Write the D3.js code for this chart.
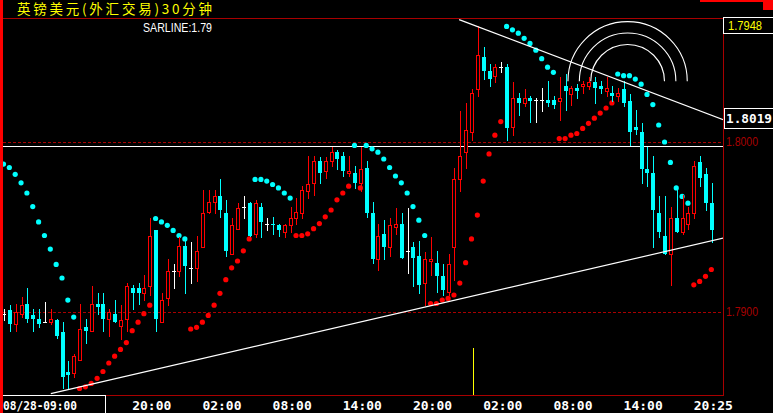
<!DOCTYPE html>
<html>
<head>
<meta charset="utf-8">
<script src="https://cdn.jsdelivr.net/npm/d3@7"></script>
<style>
  html, body { margin: 0; padding: 0; background: #000; overflow: hidden; }
  svg { display: block; }
</style>
</head>
<body>
<script>
// GBP/USD 30 minute bars
const opens = [
  1.7899, 1.7901, 1.7893, 1.7899, 1.7905, 1.7898, 1.7896, 1.7894, 1.7894, 1.7895,
  1.7888, 1.7865, 1.7864, 1.7872, 1.7891, 1.7889, 1.7905, 1.7905, 1.7896, 1.7899,
  1.7892, 1.7896, 1.7914, 1.7914, 1.7911, 1.7915, 1.7948, 1.7894, 1.7908, 1.7924,
  1.7924, 1.7939, 1.7926, 1.7926, 1.7938, 1.7959, 1.7965, 1.7968, 1.7958, 1.7934,
  1.7949, 1.7962, 1.7964, 1.7946, 1.7962, 1.7952, 1.7952, 1.7951, 1.7947, 1.7951,
  1.7955, 1.7958, 1.7971, 1.7976, 1.7989, 1.7983, 1.7989, 1.7994, 1.7992, 1.7982,
  1.7982, 1.7976, 1.7985, 1.7958, 1.7931, 1.7946, 1.7938, 1.7950, 1.7952, 1.7936,
  1.7938, 1.7933, 1.7917, 1.7930, 1.7929, 1.7921, 1.7912, 1.7938, 1.7978, 1.7994,
  1.8006, 1.8031, 1.8050, 1.8042, 1.8039, 1.8044, 1.8044, 1.8009, 1.8026, 1.8023,
  1.8026, 1.8025, 1.8025, 1.8025, 1.8025, 1.8024, 1.8033, 1.8028, 1.8032, 1.8033,
  1.8033, 1.8035, 1.8033, 1.8030, 1.8029, 1.8027, 1.8031, 1.8024, 1.8009, 1.8006,
  1.7984, 1.7982, 1.7958, 1.7945, 1.7934, 1.7955, 1.7947, 1.7952, 1.7958, 1.7988,
  1.7981, 1.7964
];
const highs = [
  1.7902, 1.7904, 1.7905, 1.7909, 1.7914, 1.7902, 1.7902, 1.7906, 1.7902, 1.7896,
  1.7894, 1.7871, 1.7875, 1.7905, 1.7896, 1.7915, 1.7911, 1.7911, 1.7902, 1.7907,
  1.7904, 1.7917, 1.7916, 1.7917, 1.7922, 1.7955, 1.7948, 1.7911, 1.7931, 1.7928,
  1.7944, 1.7944, 1.7941, 1.7945, 1.7972, 1.7972, 1.7972, 1.7978, 1.7966, 1.7955,
  1.7964, 1.7968, 1.7965, 1.7966, 1.7964, 1.7955, 1.7956, 1.7952, 1.7952, 1.7962,
  1.7967, 1.7974, 1.7992, 1.7992, 1.7991, 1.7991, 1.7997, 1.7995, 1.7994, 1.7992,
  1.7986, 1.7997, 1.7989, 1.7965, 1.7952, 1.7954, 1.7955, 1.7961, 1.7958, 1.7961,
  1.7941, 1.7942, 1.7935, 1.7944, 1.7936, 1.7928, 1.7934, 1.7985, 1.8018, 1.8023,
  1.8031, 1.8068, 1.8056, 1.8046, 1.8046, 1.8047, 1.8046, 1.8035, 1.8029, 1.8031,
  1.8027, 1.8026, 1.8032, 1.8036, 1.8027, 1.8038, 1.8040, 1.8033, 1.8034, 1.8036,
  1.8038, 1.8038, 1.8036, 1.8038, 1.8033, 1.8032, 1.8036, 1.8028, 1.8019, 1.8011,
  1.7997, 1.7992, 1.7968, 1.7968, 1.7962, 1.7973, 1.7969, 1.7962, 1.7989, 1.7992,
  1.7985, 1.7976
];
const lows = [
  1.7895, 1.7889, 1.7889, 1.7897, 1.7894, 1.7889, 1.7891, 1.7894, 1.7893, 1.7885,
  1.7855, 1.7855, 1.7862, 1.7872, 1.7882, 1.7889, 1.7899, 1.7889, 1.7886, 1.7894,
  1.7884, 1.7889, 1.7902, 1.7905, 1.7907, 1.7910, 1.7889, 1.7894, 1.7904, 1.7914,
  1.7921, 1.7911, 1.7917, 1.7918, 1.7938, 1.7958, 1.7958, 1.7956, 1.7933, 1.7934,
  1.7949, 1.7955, 1.7945, 1.7944, 1.7944, 1.7948, 1.7946, 1.7945, 1.7944, 1.7947,
  1.7952, 1.7955, 1.7967, 1.7969, 1.7976, 1.7979, 1.7986, 1.7984, 1.7980, 1.7980,
  1.7973, 1.7971, 1.7956, 1.7929, 1.7925, 1.7931, 1.7933, 1.7946, 1.7932, 1.7923,
  1.7915, 1.7911, 1.7904, 1.7922, 1.7912, 1.7910, 1.7910, 1.7919, 1.7971, 1.7985,
  1.8001, 1.8027, 1.8037, 1.8033, 1.8035, 1.8041, 1.8001, 1.8004, 1.8016, 1.8021,
  1.8012, 1.8012, 1.8018, 1.8021, 1.8020, 1.8013, 1.8019, 1.8022, 1.8026, 1.8029,
  1.8031, 1.8023, 1.8029, 1.8027, 1.8024, 1.8024, 1.8021, 1.7998, 1.8005, 1.7976,
  1.7974, 1.7938, 1.7944, 1.7934, 1.7916, 1.7947, 1.7946, 1.7949, 1.7955, 1.7974,
  1.7960, 1.7941
];
const closes = [
  1.7899, 1.7893, 1.7900, 1.7904, 1.7896, 1.7896, 1.7893, 1.7894, 1.7896, 1.7886,
  1.7862, 1.7863, 1.7874, 1.7890, 1.7889, 1.7905, 1.7903, 1.7896, 1.7900, 1.7894,
  1.7895, 1.7915, 1.7911, 1.7911, 1.7914, 1.7945, 1.7896, 1.7907, 1.7924, 1.7924,
  1.7939, 1.7927, 1.7926, 1.7936, 1.7958, 1.7965, 1.7968, 1.7960, 1.7936, 1.7951,
  1.7961, 1.7962, 1.7945, 1.7964, 1.7953, 1.7952, 1.7951, 1.7948, 1.7951, 1.7955,
  1.7959, 1.7972, 1.7975, 1.7989, 1.7982, 1.7989, 1.7994, 1.7990, 1.7983, 1.7983,
  1.7976, 1.7984, 1.7958, 1.7931, 1.7945, 1.7938, 1.7951, 1.7952, 1.7932, 1.7936,
  1.7932, 1.7916, 1.7931, 1.7931, 1.7921, 1.7913, 1.7928, 1.7978, 1.7992, 1.8007,
  1.8029, 1.8051, 1.8042, 1.8037, 1.8044, 1.8044, 1.8008, 1.8026, 1.8023, 1.8026,
  1.8024, 1.8025, 1.8025, 1.8023, 1.8022, 1.8026, 1.8030, 1.8032, 1.8030, 1.8034,
  1.8035, 1.8032, 1.8031, 1.8032, 1.8027, 1.8029, 1.8023, 1.8006, 1.8007, 1.7984,
  1.7982, 1.7960, 1.7947, 1.7934, 1.7955, 1.7947, 1.7955, 1.7958, 1.7986, 1.7979,
  1.7964, 1.7948
];
// SARLINE values (dots)
const sarValues = [
  1.7987, 1.7985, 1.7981, 1.7976, 1.7970, 1.7962, 1.7953, 1.7945, 1.7937, 1.7928,
  1.7920, 1.7907, 1.7897, 1.7855, 1.7856, 1.7858, 1.7861, 1.7865, 1.7870, 1.7874,
  1.7878, 1.7882, 1.7889, 1.7894, 1.7899, 1.7904, 1.7955, 1.7953, 1.7951, 1.7948,
  1.7945, 1.7943, 1.7890, 1.7891, 1.7894, 1.7898, 1.7904, 1.7911, 1.7919, 1.7926,
  1.7930, 1.7936, 1.7943, 1.7978, 1.7978, 1.7977, 1.7975, 1.7973, 1.7970, 1.7967,
  1.7945, 1.7945, 1.7946, 1.7949, 1.7952, 1.7956, 1.7960, 1.7966, 1.7970, 1.7974,
  1.7998, 1.7973, 1.7998, 1.7996, 1.7994, 1.7990, 1.7985, 1.7980, 1.7976, 1.7970,
  1.7962, 1.7954, 1.7945, 1.7905, 1.7905, 1.7907, 1.7908, 1.7910, 1.7917, 1.7929,
  1.7943, 1.7957, 1.7977, 1.7993, 1.8004, 1.8012, 1.8068, 1.8066, 1.8064, 1.8061,
  1.8058, 1.8054, 1.8049, 1.8044, 1.8041, 1.8002, 1.8002, 1.8004, 1.8005, 1.8008,
  1.8011, 1.8014, 1.8017, 1.8020, 1.8023, 1.8040, 1.8039, 1.8039, 1.8037, 1.8034,
  1.8028, 1.8022, 1.8010, 1.8000, 1.7988, 1.7973, 1.7968, 1.7964, 1.7916, 1.7918,
  1.7921, 1.7925
];

const tickIndex = [25, 37, 49, 61, 73, 85, 97, 109, 121];
const tickLabels = ["20:00", "02:00", "08:00", "14:00", "20:00", "02:00", "08:00", "14:00", "20:25"];
const firstLabel = "08/28-09:00";
const priceLevels = [1.7900, 1.8000];

// drawn objects on the chart
const lastPrice = "1.7948";
const lineValue = "1.8019";
const sarLabel = "SARLINE:1.79";
const hLevel = 1.79975;
const supportLine = [[8, 1.7852], [123, 1.79435]];
const resistLine = [[77.8, 1.8072], [123, 1.8013]];
const arcCenter = [106.6, 1.80357];
const arcBaseBars = 16.5;
const arcRatios = [0.382, 0.5, 0.618];
const cursorIndex = 80;

const W = 773, H = 413;
const pLeft = 3, pRight = 723, pTop = 18, pBottom = 395;
const darkRed = "#a80000";
const upColor = "#ff0000", downColor = "#00ffff";

let svg = d3.select("body").append("svg")
  .attr("width", W)
  .attr("height", H)
  .style("background", "#000");

let x = d3.scaleLinear().domain([0, 121]).range([4, 4 + 5.85 * 121]);
let y = d3.scaleLinear().domain([1.79, 1.80]).range([312, 142]);

svg.append("clipPath").attr("id", "plot")
  .append("rect")
  .attr("x", pLeft).attr("y", pTop + 1)
  .attr("width", pRight - pLeft).attr("height", pBottom - pTop - 1);

let plot = svg.append("g").attr("clip-path", "url(#plot)");

// dashed price levels
plot.selectAll(".lvl")
  .data(priceLevels)
  .enter()
  .append("line")
  .attr("x1", pLeft).attr("x2", pRight)
  .attr("y1", d => Math.round(y(d)) + 0.5)
  .attr("y2", d => Math.round(y(d)) + 0.5)
  .attr("stroke", darkRed)
  .attr("stroke-dasharray", "3,2");

// horizontal line
plot.append("line")
  .attr("x1", pLeft).attr("x2", pRight)
  .attr("y1", Math.round(y(hLevel)) + 0.5)
  .attr("y2", Math.round(y(hLevel)) + 0.5)
  .attr("stroke", "#fff");

// SAR dots
plot.selectAll(".sar")
  .data(sarValues)
  .enter()
  .append("circle")
  .attr("cx", (d, i) => x(i) - 0.5)
  .attr("cy", d => y(d))
  .attr("r", 2.6)
  .attr("fill", (d, i) => d < closes[i] ? upColor : downColor);

// candles
let bars = opens.map((o, i) => ({ i: i, o: o, h: highs[i], l: lows[i], c: closes[i] }));
let g = plot.selectAll(".bar").data(bars).enter().append("g");

g.each(function (d) {
  let sel = d3.select(this);
  let cx = Math.round(x(d.i));
  let yH = Math.round(y(d.h)), yL = Math.round(y(d.l));
  let yO = Math.round(y(d.o)), yC = Math.round(y(d.c));
  let bTop = Math.min(yO, yC), bBot = Math.max(yO, yC);
  if (d.c > d.o) {
    // hollow up bar
    sel.append("line").attr("x1", cx + 0.5).attr("x2", cx + 0.5)
      .attr("y1", yH).attr("y2", bTop).attr("stroke", upColor);
    sel.append("line").attr("x1", cx + 0.5).attr("x2", cx + 0.5)
      .attr("y1", bBot).attr("y2", yL + 1).attr("stroke", upColor);
    sel.append("rect")
      .attr("x", cx - 1.5).attr("y", bTop + 0.5)
      .attr("width", 3).attr("height", Math.max(bBot - bTop, 0))
      .attr("fill", "#000").attr("stroke", upColor);
  } else if (d.c < d.o) {
    sel.append("line").attr("x1", cx + 0.5).attr("x2", cx + 0.5)
      .attr("y1", yH).attr("y2", yL + 1).attr("stroke", downColor);
    sel.append("rect")
      .attr("x", cx - 2).attr("y", bTop)
      .attr("width", 4).attr("height", Math.max(bBot - bTop, 1))
      .attr("fill", downColor);
  } else {
    sel.append("line").attr("x1", cx + 0.5).attr("x2", cx + 0.5)
      .attr("y1", yH).attr("y2", yL + 1).attr("stroke", "#fff");
    sel.append("line").attr("x1", cx - 2).attr("x2", cx + 2)
      .attr("y1", yO + 0.5).attr("y2", yO + 0.5).attr("stroke", "#fff");
  }
});

// trend lines
[supportLine, resistLine].forEach(ln => {
  plot.append("line")
    .attr("x1", x(ln[0][0])).attr("y1", y(ln[0][1]))
    .attr("x2", x(ln[1][0])).attr("y2", y(ln[1][1]))
    .attr("stroke", "#fff")
    .attr("stroke-width", 1.2);
});

// fibonacci arcs
let acx = x(arcCenter[0]), acy = y(arcCenter[1]);
let baseR = x(arcBaseBars) - x(0);
arcRatios.forEach(r => {
  let p = d3.path();
  let rad = baseR * r;
  p.moveTo(acx - rad, acy);
  p.arc(acx, acy, rad, Math.PI, 2 * Math.PI);
  plot.append("path")
    .attr("d", p.toString())
    .attr("fill", "none")
    .attr("stroke", "#fff")
    .attr("stroke-width", 1.1);
});

// cursor mark
svg.append("line")
  .attr("x1", Math.round(x(cursorIndex)) + 1.5).attr("x2", Math.round(x(cursorIndex)) + 1.5)
  .attr("y1", 348).attr("y2", pBottom)
  .attr("stroke", "#ffff00");

// frame
svg.append("line").attr("x1", pLeft).attr("x2", pRight + 1).attr("y1", pTop + 0.5).attr("y2", pTop + 0.5).attr("stroke", darkRed);
svg.append("line").attr("x1", pRight + 0.5).attr("x2", pRight + 0.5).attr("y1", pTop).attr("y2", pBottom + 1).attr("stroke", darkRed);
svg.append("line").attr("x1", 105).attr("x2", pRight + 1).attr("y1", pBottom + 0.5).attr("y2", pBottom + 0.5).attr("stroke", darkRed);

// left red strip and corner mark
svg.append("rect").attr("x", 0).attr("y", 0).attr("width", 3).attr("height", H).attr("fill", "#ff0000");
svg.append("rect").attr("x", 700).attr("y", 0).attr("width", 73).attr("height", 2).attr("fill", "#ff0000");
svg.append("rect").attr("x", 763).attr("y", 0).attr("width", 10).attr("height", 10).attr("fill", "#ff0000");

// title
svg.append("text")
  .attr("x", 17).attr("y", 14)
  .attr("textLength", 195).attr("lengthAdjust", "spacing")
  .attr("fill", "#ffff00")
  .style("font", "13.5px 'Noto Sans CJK SC'")
  .text("英镑美元(外汇交易)30分钟");

svg.append("text")
  .attr("x", 143).attr("y", 31.5)
  .attr("textLength", 69).attr("lengthAdjust", "spacingAndGlyphs")
  .attr("fill", "#fff")
  .style("font", "13px 'Liberation Sans'")
  .text(sarLabel);

// right axis
svg.selectAll(".plab")
  .data(priceLevels)
  .enter()
  .append("text")
  .attr("x", 726)
  .attr("y", d => y(d) + 4)
  .attr("textLength", 32).attr("lengthAdjust", "spacingAndGlyphs")
  .attr("fill", darkRed)
  .style("font", "12px 'Liberation Sans'")
  .text(d => d.toFixed(4));

svg.append("rect").attr("x", 723.5).attr("y", 17.5).attr("width", 50).attr("height", 16)
  .attr("fill", "#000").attr("stroke", "#fff");
svg.append("text")
  .attr("x", 728).attr("y", 29.5)
  .attr("textLength", 34).attr("lengthAdjust", "spacingAndGlyphs")
  .attr("fill", "#ffff00")
  .style("font", "12px 'Liberation Sans'")
  .text(lastPrice);

svg.append("rect").attr("x", 724.5).attr("y", 108.5).attr("width", 50).attr("height", 20)
  .attr("fill", "#000").attr("stroke", "#fff");
svg.append("text")
  .attr("x", 726).attr("y", 123)
  .attr("textLength", 46).attr("lengthAdjust", "spacingAndGlyphs")
  .attr("fill", "#fff")
  .style("font", "bold 13px 'DejaVu Sans Mono'")
  .text(lineValue);

// bottom axis
svg.append("rect").attr("x", 0.5).attr("y", pBottom + 0.5).attr("width", 105).attr("height", 20)
  .attr("fill", "none").attr("stroke", "#fff");
svg.append("rect").attr("x", 0).attr("y", pBottom).attr("width", 3).attr("height", H - pBottom).attr("fill", "#ff0000");
svg.append("text")
  .attr("x", 3).attr("y", 409.5)
  .attr("textLength", 74).attr("lengthAdjust", "spacingAndGlyphs")
  .attr("fill", "#fff")
  .style("font", "bold 13px 'DejaVu Sans Mono'")
  .text(firstLabel);

svg.selectAll(".tlab")
  .data(tickIndex)
  .enter()
  .append("text")
  .attr("x", d => x(d) + 1.5)
  .attr("y", 410)
  .attr("text-anchor", "middle")
  .attr("fill", "#fff")
  .style("font", "bold 13px 'DejaVu Sans Mono'")
  .text((d, i) => tickLabels[i]);
</script>
</body>
</html>
